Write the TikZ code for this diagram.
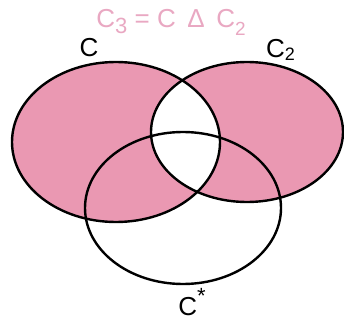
\documentclass[tikz,border=0pt]{standalone}
\usepackage{fontspec}
\setmainfont{Liberation Sans}
\definecolor{pinkfill}{HTML}{EA98B2}
\definecolor{pinktext}{HTML}{E9A8C2}
\tikzset{
  outline/.style={draw=black, line width=2.4pt},
  lbl/.style={font=\fontsize{26}{30}\selectfont, inner sep=0pt, anchor=base},
}
\newcommand{\lowsub}[3]{\raisebox{-#1pt}{\fontsize{#2}{#2}\selectfont #3}}
\begin{document}
\begin{tikzpicture}[x=1pt,y=-1pt]
\useasboundingbox (0,0) rectangle (344,320);
\coordinate (cC) at (116,142);
\coordinate (cD) at (247,132);
\coordinate (cS) at (183,208);
\fill[pinkfill, even odd rule] (cC) ellipse [x radius=104, y radius=80] (cD) ellipse [x radius=96, y radius=70];
\draw[outline] (cC) ellipse [x radius=104, y radius=80];
\draw[outline] (cD) ellipse [x radius=96, y radius=70];
\draw[outline] (cS) ellipse [x radius=98, y radius=76];
\node[lbl, text=pinktext] (title) at (171,28) {C\lowsub{6}{22}{3} = C \,Δ\, C\lowsub{8}{19}{2}};
\node[lbl] (lC) at (89,57) {C};
\node[lbl, anchor=base west] (lD) at (266,58) {C\lowsub{3}{18}{2}};
\node[lbl] (lS) at (192,315) {C\raisebox{12pt}{\fontsize{22}{22}\selectfont *}};
\end{tikzpicture}
\end{document}
